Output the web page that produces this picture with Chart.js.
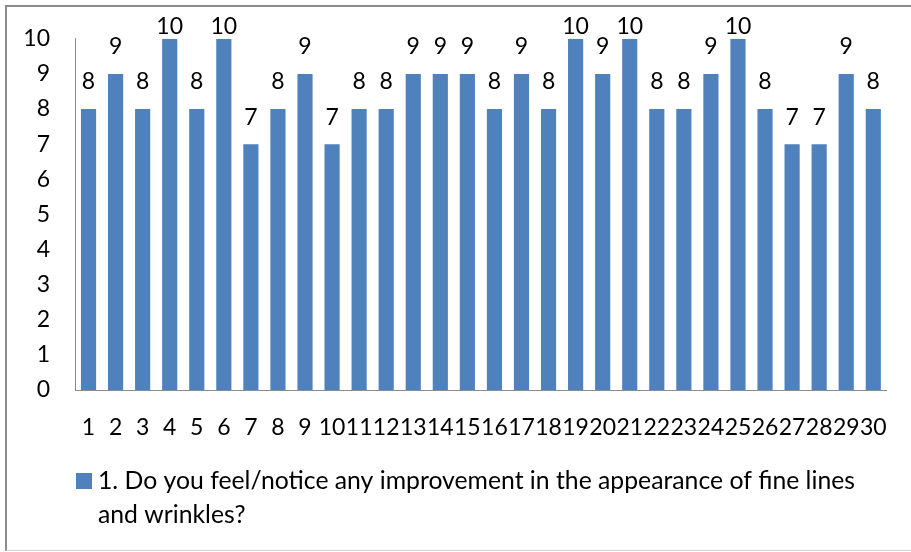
<!DOCTYPE html>
<html>
<head>
<meta charset="utf-8">
<script src="https://cdn.jsdelivr.net/npm/chart.js@4.4.1/dist/chart.umd.min.js"></script>
<style>
  html, body { margin: 0; padding: 0; background: #fff; overflow: hidden; }
  #wrap { position: relative; width: 911px; height: 552px; overflow: hidden; }
  #frame { position: absolute; left: 5px; top: 5px; width: 920px; height: 546px; border: 2px solid #8c8c8c; border-bottom: 1px solid #d0d0d0; box-sizing: border-box; pointer-events: none; }
  canvas { position: absolute; left: 0; top: 0; }
</style>
</head>
<body>
<div id="wrap">
  <canvas id="chart" width="911" height="552"></canvas>
  <div id="frame"></div>
</div>
<script>
const categories = ["1","2","3","4","5","6","7","8","9","10","11","12","13","14","15","16","17","18","19","20","21","22","23","24","25","26","27","28","29","30"];
const scores = [8, 9, 8, 10, 8, 10, 7, 8, 9, 7, 8, 8, 9, 9, 9, 8, 9, 8, 10, 9, 10, 8, 8, 9, 10, 8, 7, 7, 9, 8];
const seriesName = "1. Do you feel/notice any improvement in the appearance of fine lines";
const seriesName2 = "and wrinkles?";
const yTicks = [0, 1, 2, 3, 4, 5, 6, 7, 8, 9, 10];

const FONT = "Lato, 'Open Sans', sans-serif";
const BLUE = "#4f81bd";

// value labels above every bar
const barLabels = {
    id: "barLabels",
    afterDatasetsDraw(chart) {
        const ctx = chart.ctx;
        const meta = chart.getDatasetMeta(0);
        ctx.save();
        ctx.font = "23px " + FONT;
        ctx.fillStyle = "#000";
        ctx.textAlign = "center";
        ctx.textBaseline = "middle";
        meta.data.forEach((bar, i) => {
            const y = Math.max(bar.y - 27, 27);
            ctx.fillText(String(scores[i]), bar.x, y);
        });
        ctx.restore();
    }
};

// legend drawn under the axis, wrapped on two lines
const legendBlock = {
    id: "legendBlock",
    afterDraw(chart) {
        const ctx = chart.ctx;
        ctx.save();
        ctx.fillStyle = BLUE;
        ctx.fillRect(76, 473, 16, 16);
        ctx.font = "25px " + FONT;
        ctx.fillStyle = "#000";
        ctx.textAlign = "left";
        ctx.textBaseline = "middle";
        const w = ctx.measureText(seriesName).width;
        ctx.save();
        ctx.translate(98, 481);
        ctx.scale(757 / w, 1);
        ctx.fillText(seriesName, 0, 0);
        ctx.restore();
        ctx.save();
        ctx.translate(98, 515);
        ctx.scale(757 / w, 1);
        ctx.fillText(seriesName2, 0, 0);
        ctx.restore();
        ctx.restore();
    }
};

new Chart(document.getElementById("chart"), {
    type: "bar",
    data: {
        labels: categories,
        datasets: [{
            label: seriesName + " " + seriesName2,
            data: scores,
            backgroundColor: BLUE,
            barPercentage: 0.56,
            categoryPercentage: 1.0
        }]
    },
    options: {
        responsive: false,
        animation: false,
        layout: { padding: { left: 0, top: 36, right: 23, bottom: 0 } },
        plugins: { legend: { display: false }, tooltip: { enabled: false } },
        scales: {
            x: {
                grid: { display: false, drawTicks: false },
                border: { color: "#8c8c8c" },
                ticks: { color: "#000", font: { family: FONT, size: 23 }, padding: 24, maxRotation: 0, autoSkip: false },
                afterFit: (scale) => { scale.height = 162; }
            },
            y: {
                min: 0, max: 10,
                afterBuildTicks: (scale) => { scale.ticks = yTicks.map(v => ({ value: v })); },
                grid: { display: false, drawTicks: false },
                border: { color: "#8c8c8c" },
                ticks: { color: "#000", font: { family: FONT, size: 23 }, padding: 25 },
                afterFit: (scale) => { scale.width = 75; }
            }
        }
    },
    plugins: [barLabels, legendBlock]
});
</script>
</body>
</html>
